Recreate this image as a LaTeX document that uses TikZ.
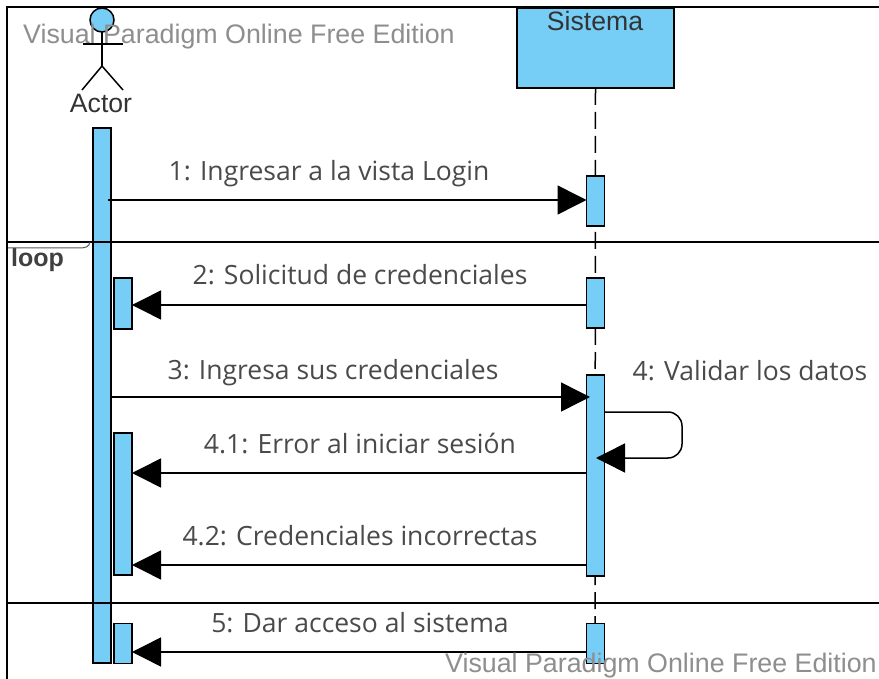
\documentclass[tikz,border=0pt]{standalone}
\usepackage{fontspec}
\setmainfont{Liberation Sans}
\newfontfamily\msgfont{Open Sans}
\usetikzlibrary{arrows.meta}
\definecolor{vpblue}{HTML}{76CDF5}
\definecolor{msggray}{HTML}{4A4A4A}
\definecolor{markgray}{HTML}{8E8E8E}
\tikzset{
  bar/.style={draw=black,line width=1.7pt,fill=vpblue,inner sep=0pt,outer sep=0pt,anchor=north west,minimum width=18pt},
  msg/.style={font=\msgfont\fontsize{26.5}{28}\selectfont,text=msggray,inner sep=0pt,anchor=base},
  wmark/.style={font=\fontsize{26.8}{28}\selectfont,text=markgray,inner sep=0pt,anchor=base west},
  uml/.style={font=\fontsize{26.6}{28}\selectfont,text=black!80,inner sep=0pt,anchor=base},
  call/.style={line width=1.5pt,-{Triangle[length=29pt,width=29pt]}},
  rule/.style={line width=1.3pt,draw=black},
}
\begin{document}
\begin{tikzpicture}[x=1pt,y=-1pt]
\useasboundingbox (0,0) rectangle (879,679);
\fill[white] (0,0) rectangle (879,679);
% frame
\coordinate (tl) at (7,7);
\coordinate (tr) at (879,7);
\coordinate (bl) at (7,679);
\coordinate (fl) at (7,242);
\coordinate (fr) at (879,242);
\coordinate (gl) at (7,603);
\coordinate (gr) at (879,603);
\draw[line width=1.5pt] (tr) -- (tl) -- (bl);
\draw[rule] (fl) -- (fr);
\draw[rule] (gl) -- (gr);
\draw[line width=2.2pt] (fl) -- (gl);
% system head and lifeline
\node[bar,minimum width=157pt,minimum height=80pt] (head) at (517,8) {};
\node[uml] (headtxt) at (595,31) {Sistema};
\coordinate (lifeend) at (595,623);
\draw[line width=1.5pt,dash pattern=on 17pt off 7pt] (head.south) -- (lifeend);
% actor
\node[draw=black,line width=1.5pt,fill=vpblue,circle,minimum size=24pt,inner sep=0pt,outer sep=0pt] (ahead) at (102,20) {};
\coordinate (neck) at (102,66);
\coordinate (armL) at (83,44);
\coordinate (armR) at (123,44);
\coordinate (footL) at (82,90);
\coordinate (footR) at (123,90);
\draw[line width=1.5pt] (ahead.south) -- (neck);
\draw[line width=1.5pt] (armL) -- (armR);
\draw[line width=1.5pt] (footL) -- (neck) -- (footR);
\node[uml] (actor) at (101,113) {Actor};
% watermark
\node[wmark] (wm1) at (23,44) {Visual Paradigm Online Free Edition};
% activations
\node[bar,minimum height=535pt] (a0) at (93.3,128) {};
\node[bar,minimum height=51pt] (a2) at (114,278) {};
\node[bar,minimum height=142pt] (a4) at (114,433) {};
\node[bar,minimum height=40pt] (a5) at (114,623.5) {};
\node[bar,minimum height=50pt] (s1) at (586.5,176) {};
\node[bar,minimum height=50pt] (s2) at (586.5,278) {};
\node[bar,minimum height=201pt] (s3) at (586.5,375) {};
\node[bar,minimum height=40pt] (s5) at (586.5,623.5) {};
% frame lines over the actor bar
\draw[rule] (a0.west |- fl) -- (a0.east |- fl);
\draw[rule] (a0.west |- gl) -- (a0.east |- gl);
% loop label
\node[font=\fontsize{25}{28}\selectfont\bfseries,text=black!75,inner sep=0pt,anchor=base west] (loop) at (11,267) {loop};
\coordinate (tabA) at (8,248);
\coordinate (tabM) at (78,248);
\coordinate (tabB) at (90,242);
\draw[line width=1pt,black!65] (tabA) -- (tabM) .. controls (86,248) and (89,247) .. (tabB);
% messages
\coordinate (m1a) at (108,200);
\draw[call] (m1a) -- (s1.west |- m1a);
\coordinate (m2) at (0,305);
\draw[call] (s2.west |- m2) -- (a2.east |- m2);
\coordinate (m3) at (111,397);
\coordinate (m3b) at (590,397);
\draw[call] (m3) -- (m3b);
\coordinate (m41) at (0,473);
\draw[call] (s3.west |- m41) -- (a4.east |- m41);
\coordinate (m42) at (0,565);
\draw[call] (s3.west |- m42) -- (a4.east |- m42);
\coordinate (m5) at (0,652);
\draw[call] (s5.west |- m5) -- (a5.east |- m5);
\coordinate (selfA) at (604,412);
\coordinate (selfB) at (596,458);
\draw[call,rounded corners=14pt] (selfA) -- (682,412) -- (682,458) -- (selfB);
% labels
\node[msg] (l1) at (329,181) {1: Ingresar a la vista Login};
\node[msg] (l2) at (360,285) {2: Solicitud de credenciales};
\node[msg] (l3) at (333,379) {3: Ingresa sus credenciales};
\node[msg] (l4) at (750,381) {4: Validar los datos};
\node[msg] (l41) at (360,453) {4.1: Error al iniciar sesión};
\node[msg] (l42) at (360,545) {4.2: Credenciales incorrectas};
\node[msg] (l5) at (360,632) {5: Dar acceso al sistema};
\node[wmark] (wm2) at (445,672) {Visual Paradigm Online Free Edition};
\end{tikzpicture}
\end{document}
